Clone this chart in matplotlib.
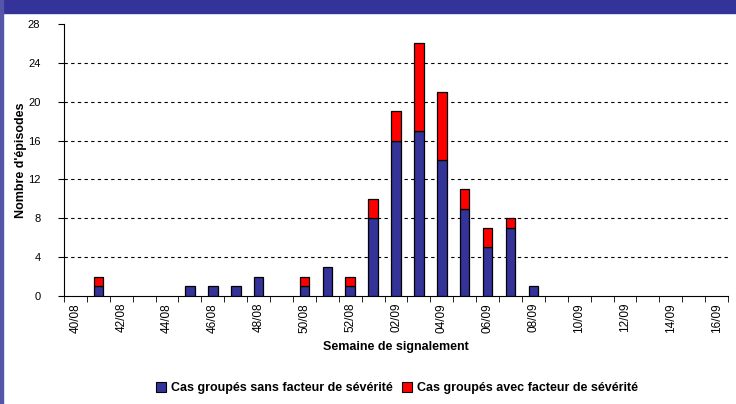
import matplotlib
matplotlib.use("Agg")
import matplotlib.pyplot as plt
import numpy as np
from matplotlib import font_manager
from matplotlib.patches import Patch

weeks = ["40/08", "41/08", "42/08", "43/08", "44/08", "45/08", "46/08", "47/08",
         "48/08", "49/08", "50/08", "51/08", "52/08", "01/09", "02/09", "03/09",
         "04/09", "05/09", "06/09", "07/09", "08/09", "09/09", "10/09", "11/09",
         "12/09", "13/09", "14/09", "15/09", "16/09"]
sans_severite = [0, 1, 0, 0, 0, 1, 1, 1, 2, 0, 1, 3, 1, 8, 16, 17, 14, 9, 5, 7, 1,
                 0, 0, 0, 0, 0, 0, 0, 0]
avec_severite = [0, 1, 0, 0, 0, 0, 0, 0, 0, 0, 1, 0, 1, 2, 3, 9, 7, 2, 2, 1, 0,
                 0, 0, 0, 0, 0, 0, 0, 0]
series_labels = ["Cas groupés sans facteur de sévérité",
                 "Cas groupés avec facteur de sévérité"]
y_ticks = [0, 4, 8, 12, 16, 20, 24, 28]

names = {f.name for f in font_manager.fontManager.ttflist}
narrow = "Liberation Sans Narrow" if "Liberation Sans Narrow" in names else "Liberation Sans"
plt.rcParams['font.family'] = ['Liberation Sans', 'DejaVu Sans']

BLUE = "#333399"
RED = "#FF0000"

fig = plt.figure(figsize=(7.36, 4.04), dpi=100)
# header band and left frame
fig.patches.append(plt.Rectangle((0, 1 - 13 / 404), 1, 13 / 404, transform=fig.transFigure,
                                 color=BLUE, zorder=0))
fig.patches.append(plt.Rectangle((0, 0), 3 / 736, 1, transform=fig.transFigure,
                                 color="#5555aa", zorder=0))

ax = fig.add_axes([64 / 736, 108 / 404, 664 / 736, 272 / 404])
x = np.arange(len(weeks))
w = 0.42
ax.bar(x, sans_severite, width=w, color=BLUE, edgecolor="black", linewidth=0.9, zorder=3)
ax.bar(x, avec_severite, width=w, bottom=sans_severite, color=RED, edgecolor="black",
       linewidth=0.9, zorder=3)
# hide zero-height edges
for p in ax.patches:
    if p.get_height() == 0:
        p.set_visible(False)

ax.set_xlim(-0.5, len(weeks) - 0.5)
ax.set_ylim(0, 28)
ax.set_yticks(y_ticks)
for yv in y_ticks[1:-1]:
    ax.axhline(yv, color="black", linestyle=(0, (3, 3)), linewidth=0.8, zorder=1)

ax.set_xticks(x[::2])
ax.set_xticklabels(weeks[::2], rotation=90, fontfamily=narrow, fontsize=8.5)
ax.set_xticks(np.arange(-0.5, len(weeks), 1), minor=True)
ax.tick_params(axis="x", which="major", length=0, pad=5)
ax.tick_params(axis="x", which="minor", length=4, direction="out", color="black")
ax.tick_params(axis="y", length=4, direction="out", pad=13)
for lab in ax.get_yticklabels():
    lab.set_fontfamily(narrow)
    lab.set_fontsize(8)

ax.spines["top"].set_visible(False)
ax.spines["right"].set_visible(False)
ax.spines["left"].set_color("black")
ax.spines["bottom"].set_color("black")

ax.set_ylabel("Nombre d'épisodes", fontweight="bold", fontsize=9)
ax.yaxis.set_label_coords(-37 / 664, 0.5)
ax.set_xlabel("Semaine de signalement", fontweight="bold", fontsize=9, labelpad=6)

handles = [Patch(facecolor=BLUE, edgecolor="black", linewidth=0.8),
           Patch(facecolor=RED, edgecolor="black", linewidth=0.8)]
fig.legend(handles, series_labels, loc="center", bbox_to_anchor=(397 / 736, 1 - 388 / 404),
           ncol=2, frameon=False, prop={"weight": "bold", "size": 9},
           handlelength=0.8, handleheight=0.8, handletextpad=0.4, columnspacing=0.8)

fig.savefig("out.png", dpi=100)
